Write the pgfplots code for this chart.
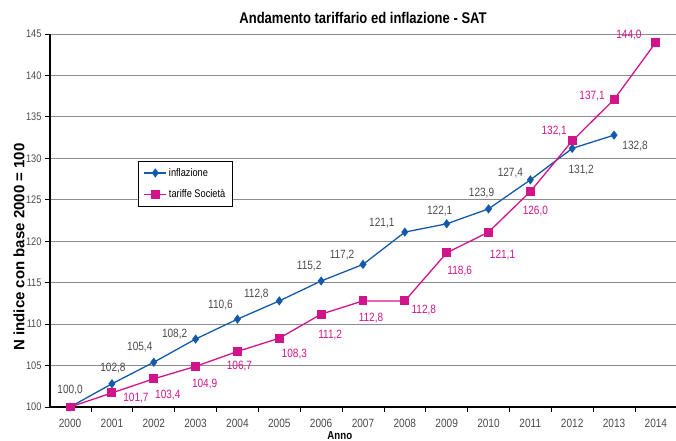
\documentclass[border=0pt]{standalone}
\usepackage{fontspec}
\setmainfont{Liberation Sans}
\newfontfamily\narrow[FakeStretch=0.84]{Liberation Sans}
\usepackage{pgfplots}
\pgfplotsset{compat=1.18}
\usepackage{pgfplotstable}

\definecolor{infl}{RGB}{20,90,170}
\definecolor{tar}{RGB}{210,20,140}
\definecolor{lab}{RGB}{75,75,75}
\definecolor{gridc}{RGB}{140,140,140}

\pgfplotstableread{
x y lab dx dy
2000 100.0 100,0 0 17
2001 102.8 102,8 1 16
2002 105.4 105,4 -14 15
2003 108.2 108,2 -21 5
2004 110.6 110,6 -17 14
2005 112.8 112,8 -23 7
2006 115.2 115,2 -12 15
2007 117.2 117,2 -21 9
2008 121.1 121,1 -23 9
2009 122.1 122,1 -7 13
2010 123.9 123,9 -7 16
2011 127.4 127,4 -20 7
2012 131.2 131,2 9 -22
2013 132.8 132,8 21 -11
}\tabinfl

\pgfplotstableread{
x y lab dx dy
2000 100.0 {} 0 0
2001 101.7 101,7 24 -5
2002 103.4 103,4 14 -16
2003 104.9 104,9 9 -18
2004 106.7 106,7 2 -15
2005 108.3 108,3 15 -16
2006 111.2 111,2 9 -21
2007 112.8 112,8 8 -17
2008 112.8 112,8 19 -9
2009 118.6 118,6 13 -18
2010 121.1 121,1 14 -23
2011 126.0 126,0 5 -20
2012 132.1 132,1 -18 10
2013 137.1 137,1 -22 3
2014 144.0 144,0 -27 7
}\tabtar

\begin{document}
\begin{tikzpicture}
\begin{axis}[
  scale only axis,
  width=626pt, height=373pt,
  xmin=1999.52, xmax=2014.48,
  ymin=100, ymax=145,
  axis lines*=left,
  axis line style={black, line width=1.2pt},
  ytick={100,105,...,145},
  xtick={2000,...,2014},
  minor xtick={1999.5,2000.5,...,2014.5},
  major x tick style={draw=none},
  minor tick length=5pt,
  major tick length=5pt,
  tick align=outside,
  tick style={black, line width=0.8pt},
  ymajorgrids,
  grid style={gridc, line width=0.9pt},
  /pgf/number format/assume math mode=true,
  /pgf/number format/set thousands separator={},
  xticklabel style={font=\narrow\fontsize{12}{14}\selectfont, text=lab, anchor=base, yshift=-15.5pt},
  yticklabel style={font=\narrow\fontsize{11}{13}\selectfont, text=lab},
  title={Andamento tariffario ed inflazione - SAT},
  title style={font=\narrow\bfseries\fontsize{15.5}{17}\selectfont, at={(axis description cs:0.5,1)}, anchor=base, yshift=4.5pt},
  xlabel={Anno},
  xlabel style={font=\narrow\bfseries\fontsize{11.5}{13}\selectfont, at={(axis description cs:0.463,0)}, anchor=base, yshift=-32pt},
  ylabel={N indice con base 2000 = 100},
  ylabel style={font=\bfseries\fontsize{15}{17}\selectfont, at={(axis description cs:-0.0495,0.429)}, anchor=center},
  legend style={at={(0.141,0.66)}, anchor=north west, draw=black, line width=0.8pt,
    font=\narrow\fontsize{11}{13}\selectfont, row sep=8pt, inner ysep=5pt, inner xsep=5pt},
  legend image code/.code={\draw[mark repeat=2, mark phase=2] plot coordinates {(0pt,0pt) (11pt,0pt) (22pt,0pt)};},
  legend cell align=left,
  clip=false,
]
\addplot[infl, line width=1.3pt, mark=diamond*, mark size=3.6pt, mark options={solid, fill=infl},
  nodes near coords, point meta=explicit symbolic,
  visualization depends on={\thisrow{dx}\as\mydx},
  visualization depends on={\thisrow{dy}\as\mydy},
  every node near coord/.append style={anchor=center, xshift=\mydx pt, yshift=\mydy pt,
    font=\narrow\fontsize{12}{14}\selectfont, text=lab, inner sep=0pt}]
  table[x=x, y=y, meta=lab]{\tabinfl};
\addlegendentry{inflazione}
\addplot[tar, line width=1.3pt, mark=square*, mark size=3.8pt, mark options={solid, fill=tar},
  nodes near coords, point meta=explicit symbolic,
  visualization depends on={\thisrow{dx}\as\mydx},
  visualization depends on={\thisrow{dy}\as\mydy},
  every node near coord/.append style={anchor=center, xshift=\mydx pt, yshift=\mydy pt,
    font=\narrow\fontsize{12}{14}\selectfont, text=tar, inner sep=0pt}]
  table[x=x, y=y, meta=lab]{\tabtar};
\addlegendentry{tariffe Società}
\coordinate (bl) at (rel axis cs:0,0);
\coordinate (tr) at (rel axis cs:1,1);
\end{axis}
\pgfresetboundingbox
\path ([shift={(-50pt,-33pt)}]bl) rectangle ([shift={(0pt,34pt)}]tr);
\end{tikzpicture}
\end{document}
